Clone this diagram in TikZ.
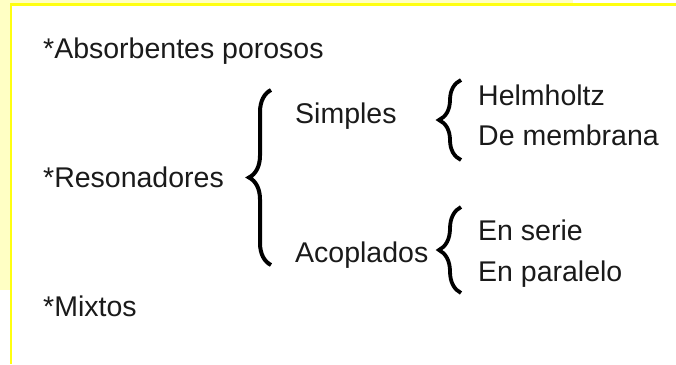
\documentclass[tikz,border=0pt]{standalone}
\usepackage{fontspec}
\setmainfont{Liberation Sans}
\usepackage{xcolor}
\usetikzlibrary{decorations.pathreplacing}
\definecolor{frameyellow}{HTML}{FFFF10}
\definecolor{paleyellow}{HTML}{FFFFC4}
\definecolor{inkgray}{HTML}{1A1A1A}
\tikzset{every node/.style={font=\normalfont}}

\begin{document}
\begin{tikzpicture}[x=1pt, y=-1pt, every node/.style={font=\fontsize{28.5}{34}\selectfont, text=inkgray, inner sep=0pt}]
    % Define styles
    \tikzstyle{item} = [anchor=base west]
    \tikzstyle{curly} = [draw=black, line width=4pt, decorate, decoration={brace, amplitude=22pt}]
    \tikzstyle{smallcurly} = [draw=black, line width=3.8pt, decorate, decoration={brace, amplitude=22pt}]

    % Frame
    \useasboundingbox (0,0) rectangle (676,364);
    \fill[white] (0,0) rectangle (676,364);
    \fill[paleyellow] (0,0) rectangle (10,290);
    \fill[paleyellow] (0,0) rectangle (573,3);
    \draw[frameyellow, line width=2.6pt] (11,364) -- (11,4.3) -- (676,4.3);

    % Main classes
    \node (absorb) [item] at (43, 58) {*Absorbentes porosos};
    \node (reson) [item] at (43, 187) {*Resonadores};
    \node (mixtos) [item] at (43, 316) {*Mixtos};

    % Resonator types
    \node (simples) [item] at (295, 123) {Simples};
    \node (acopl) [item] at (295, 262) {Acoplados};

    % Simple resonators
    \node (helm) [item] at (478, 105) {Helmholtz};
    \node (membr) [item] at (478, 145) {De membrana};

    % Coupled resonators
    \node (serie) [item] at (478, 240) {En serie};
    \node (paral) [item] at (478, 281) {En paralelo};

    % Braces
    \coordinate (bigtop) at (271, 90);
    \coordinate (bigbot) at (271, 265);
    \coordinate (simtop) at (461, 80);
    \coordinate (simbot) at (461, 160);
    \coordinate (acotop) at (461, 207);
    \coordinate (acobot) at (461, 293);
    \draw [curly] (bigbot) -- (bigtop);
    \draw [smallcurly] (simbot) -- (simtop);
    \draw [smallcurly] (acobot) -- (acotop);
\end{tikzpicture}
\end{document}
